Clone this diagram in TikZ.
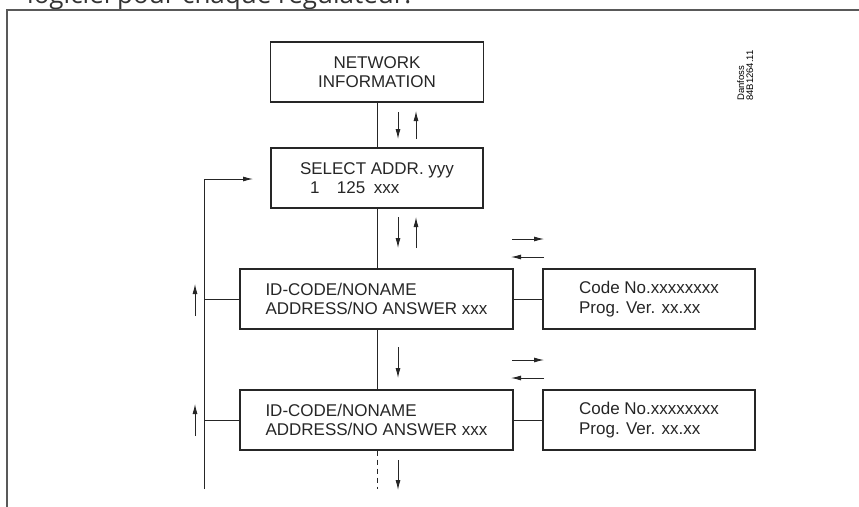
\documentclass[tikz,border=0pt]{standalone}
\usepackage{fontspec}
\setmainfont{Liberation Sans}
\newfontfamily\topfont{Open Sans}
\usetikzlibrary{arrows.meta}
\begin{document}
\begin{tikzpicture}[x=1pt,y=-1pt,
  box/.style={draw=black!85, line width=1.1pt, inner sep=0pt, font=\fontsize{17}{19.5}\selectfont, align=left, text=black!85},
  ln/.style={draw=black!85, line width=0.9pt},
  arr/.style={ln, -{Latex[length=10pt,width=5pt]}},
]
\useasboundingbox (0,0) rectangle (859,506);
\node[anchor=base west, font=\topfont\fontsize{26}{30}\selectfont, text=black!80, inner sep=0pt] (top) at (27,3) {logiciel pour chaque régulateur.};
\draw[draw=black!65, line width=2pt] (7,520) -- (7,9.5) -- (870,9.5);

\node[rotate=90, anchor=north west, font=\fontsize{9.5}{9}\selectfont, align=left, inner sep=0pt] (lbl) at (737,101) {Danfoss\\84B1264.11};

\node[box, minimum width=213pt, minimum height=60pt, align=center] (net) at (377,72) {NETWORK\\INFORMATION};
\node[box, minimum width=212pt, minimum height=60pt] (sel) at (377,178) {SELECT ADDR. yyy\\\hspace*{10pt}1\hspace{17.5pt}125\hspace{8.6pt}xxx};
\node[box, minimum width=273pt, minimum height=60pt] (id1) at (376.5,299) {ID-CODE/NONAME\\ADDRESS/NO ANSWER xxx};
\node[box, minimum width=212pt, minimum height=60pt] (code1) at (649,299) {Code No.xxxxxxxx\\Prog. Ver. xx.xx};
\node[box, minimum width=273pt, minimum height=60pt] (id2) at (376.5,420) {ID-CODE/NONAME\\ADDRESS/NO ANSWER xxx};
\node[box, minimum width=212pt, minimum height=60pt] (code2) at (649,420) {Code No.xxxxxxxx\\Prog. Ver. xx.xx};

\coordinate (dend) at (377,489);
\coordinate (lb) at (204,489);
\coordinate (selin) at (253,179);

\draw[ln] (net.south) -- (sel.north);
\draw[ln] (sel.south) -- (sel.south |- id1.north);
\draw[ln] (sel.south |- id1.south) -- (sel.south |- id2.north);
\draw[ln, dash pattern=on 5pt off 4pt] (sel.south |- id2.south) -- (dend);
\draw[ln] (id1.east) -- (code1.west);
\draw[ln] (id2.east) -- (code2.west);
\draw[arr] (lb) |- (selin);
\draw[ln] (lb |- id1.west) -- (id1.west);
\draw[ln] (lb |- id2.west) -- (id2.west);

% indicator arrows
\draw[arr] (398,112) -- (398,139);
\draw[arr] (416,139) -- (416,111);
\draw[arr] (398,217) -- (398,248);
\draw[arr] (416,248) -- (416,217);
\draw[arr] (398,347) -- (398,378);
\draw[arr] (398,460) -- (398,490);
\draw[arr] (195,316) -- (195,284);
\draw[arr] (195,436) -- (195,404);
\draw[arr] (512,239) -- (544,239);
\draw[arr] (544,257) -- (511,257);
\draw[arr] (512,360) -- (544,360);
\draw[arr] (544,378) -- (511,378);
\end{tikzpicture}
\end{document}
